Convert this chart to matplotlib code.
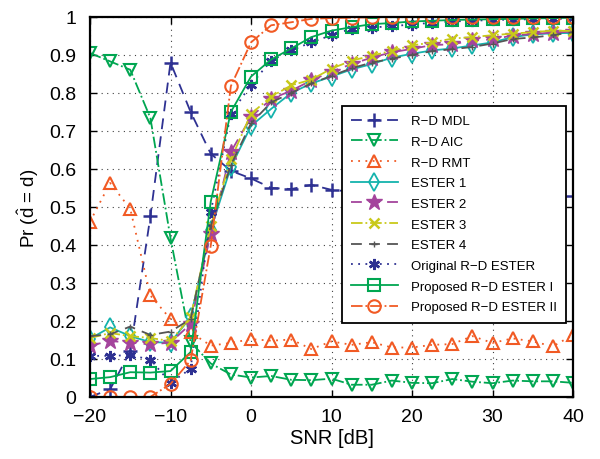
import numpy as np
import matplotlib
matplotlib.use("Agg")
import matplotlib.pyplot as plt

plt.rcParams['font.family'] = ['Liberation Sans', 'DejaVu Sans']
plt.rcParams['mathtext.fontset'] = 'custom'
plt.rcParams['mathtext.rm'] = 'Liberation Sans'
plt.rcParams['mathtext.it'] = 'Liberation Sans'

snr = np.arange(-20, 40.1, 2.5)

mdl = [0.0, 0.02, 0.12, 0.475, 0.88, 0.75, 0.64, 0.595, 0.575, 0.55, 0.547, 0.558, 0.545,
       0.54, 0.545, 0.54, 0.535, 0.54, 0.535, 0.53, 0.535, 0.53, 0.53, 0.525, 0.528]
aic = [0.905, 0.883, 0.861, 0.734, 0.418, 0.144, 0.088, 0.059, 0.051, 0.055, 0.045, 0.044, 0.048,
       0.032, 0.032, 0.043, 0.037, 0.036, 0.047, 0.040, 0.036, 0.043, 0.041, 0.041, 0.037]
rmt = [0.461, 0.563, 0.495, 0.267, 0.205, 0.17, 0.135, 0.142, 0.152, 0.148, 0.151, 0.126, 0.146,
       0.137, 0.144, 0.130, 0.130, 0.137, 0.139, 0.160, 0.142, 0.154, 0.146, 0.133, 0.163]
ester1 = [0.153, 0.183, 0.16, 0.144, 0.143, 0.21, 0.44, 0.605, 0.713, 0.758, 0.80, 0.825, 0.843,
          0.862, 0.876, 0.893, 0.903, 0.912, 0.917, 0.925, 0.933, 0.947, 0.954, 0.957, 0.958]
ester2 = [0.135, 0.147, 0.143, 0.138, 0.143, 0.192, 0.43, 0.645, 0.737, 0.784, 0.806, 0.833, 0.856,
          0.876, 0.893, 0.907, 0.916, 0.926, 0.928, 0.938, 0.941, 0.951, 0.955, 0.959, 0.961]
ester3 = [0.155, 0.168, 0.16, 0.155, 0.147, 0.21, 0.45, 0.625, 0.745, 0.79, 0.82, 0.835, 0.864,
          0.885, 0.898, 0.911, 0.925, 0.933, 0.943, 0.947, 0.952, 0.956, 0.96, 0.964, 0.963]
ester4 = [0.16, 0.165, 0.185, 0.163, 0.172, 0.205, 0.45, 0.61, 0.72, 0.775, 0.80, 0.825, 0.845,
          0.865, 0.88, 0.89, 0.90, 0.91, 0.915, 0.921, 0.93, 0.942, 0.946, 0.952, 0.96]
orig = [0.108, 0.108, 0.11, 0.098, 0.037, 0.074, 0.487, 0.745, 0.822, 0.885, 0.912, 0.933, 0.952,
        0.969, 0.972, 0.976, 0.98, 0.985, 0.988, 0.99, 0.992, 0.993, 0.994, 0.995, 0.996]
prop1 = [0.047, 0.052, 0.065, 0.064, 0.068, 0.118, 0.514, 0.75, 0.843, 0.888, 0.917, 0.947, 0.964,
         0.973, 0.981, 0.984, 0.988, 0.99, 0.992, 0.993, 0.994, 0.995, 0.996, 0.997, 0.998]
prop2 = [0.0, 0.0, 0.0, 0.0, 0.034, 0.096, 0.398, 0.818, 0.933, 0.978, 0.986, 0.995, 0.997,
         0.998, 0.999, 1.0, 1.0, 1.0, 1.0, 1.0, 1.0, 1.0, 1.0, 1.0, 1.0]

labels = ['R−D MDL', 'R−D AIC', 'R−D RMT', 'ESTER 1', 'ESTER 2', 'ESTER 3', 'ESTER 4',
          'Original R−D ESTER', 'Proposed R−D ESTER I', 'Proposed R−D ESTER II']

BLUE = '#2e3192'
GREEN = '#00a651'
ORANGE = '#f15a24'
TEAL = '#14b3ad'
PURPLE = '#a4449c'
YELLOW = '#c9c91a'
GRAY = '#555555'

styles = [
    dict(color=BLUE, ls=(0, (6, 4)), marker='+', ms=10, mew=1.8),
    dict(color=GREEN, ls='-.', marker='v', ms=9, mfc='none', mew=1.5),
    dict(color=ORANGE, ls=(0, (1, 3)), marker='^', ms=9, mfc='none', mew=1.5),
    dict(color=TEAL, ls='-', marker='d', ms=9, mfc='none', mew=1.3),
    dict(color=PURPLE, ls=(0, (6, 4)), marker='*', ms=12, mew=1.0),
    dict(color=YELLOW, ls='-.', marker='x', ms=7, mew=1.8),
    dict(color=GRAY, ls=(0, (6, 4)), marker='+', ms=4, mew=1.0),
    dict(color=BLUE, ls=(0, (1, 3)), marker=(6, 2, 0), ms=8, mew=1.8),
    dict(color=GREEN, ls='-', marker='s', ms=8, mfc='none', mew=1.5),
    dict(color=ORANGE, ls='-.', marker='o', ms=9, mfc='none', mew=1.5),
]
series = [mdl, aic, rmt, ester1, ester2, ester3, ester4, orig, prop1, prop2]

fig = plt.figure(figsize=(6.0, 4.6), dpi=100)
ax = fig.add_axes([0.15, 0.135, 0.805, 0.826])

for y, lab, st in zip(series, labels, styles):
    ax.plot(snr, y, label=lab, lw=1.3, **st)

ax.set_xlim(-20, 40)
ax.set_ylim(0, 1)
ax.set_xticks(np.arange(-20, 41, 10))
ax.set_yticks(np.arange(0, 1.01, 0.1))
ax.set_yticklabels(['0', '0.1', '0.2', '0.3', '0.4', '0.5', '0.6', '0.7', '0.8', '0.9', '1'])
ax.grid(True, ls=(0, (1, 4)), color='0.25', lw=0.8)
ax.tick_params(direction='in', top=True, right=True, length=5, width=1.0, labelsize=14)
ax.tick_params(axis='x', pad=8)
ax.tick_params(axis='y', pad=10)
for sp in ax.spines.values():
    sp.set_linewidth(1.6)

ax.set_xlabel('SNR [dB]', fontsize=14.5, labelpad=2)
ax.set_ylabel(r'Pr ($\hat{\mathrm{d}}$ = d)', fontsize=13.5, labelpad=6)

leg = ax.legend(loc='upper right', bbox_to_anchor=(0.9855, 0.766), fontsize=9.5,
                frameon=True, fancybox=False, framealpha=1, edgecolor='black',
                handlelength=3.5, labelspacing=0.64, borderpad=0.7, handletextpad=1.0,
                borderaxespad=0)
leg.get_frame().set_linewidth(1.3)
leg.set_zorder(10)

fig.savefig('out.png', dpi=100)
